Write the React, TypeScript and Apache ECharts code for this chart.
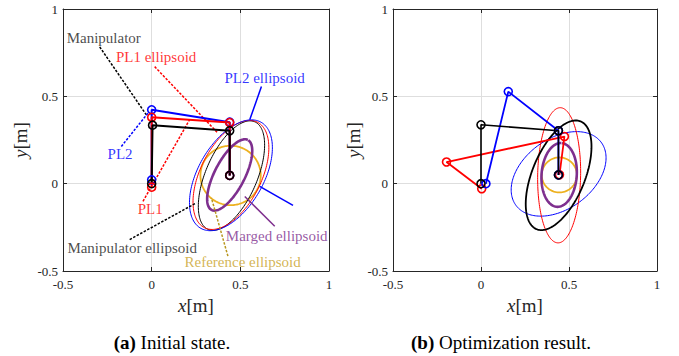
import React, { useEffect, useRef } from "react";
import * as echarts from "echarts";

const FONT = "Liberation Serif";
const AX_MIN = -0.5;
const AX_MAX = 1;
const AX_STEP = 0.5;

const BLACK = "#000000";
const RED = "#ff0000";
const BLUE = "#0000ff";
const PURPLE = "#7E2F8E";
const ORANGE = "#EDB120";
const GOLD_TEXT = "#C9A227";
const GOLD_LINE = "#B8961E";

// ---------- (a) Initial state: joint coordinates [x, y] ----------
const initManipulator = [[0, 0], [0.005, 0.335], [0.44, 0.303], [0.44, 0.047]];
const initPL1 = [[0, -0.02], [0, 0.38], [0.44, 0.35], [0.44, 0.047]];
const initPL2 = [[0, 0.022], [0, 0.423], [0.44, 0.352], [0.44, 0.047]];

// ellipses: [cx, cy, semiA, semiB, angleDeg]
const initRefEllipse = [0.445, 0.047, 0.17, 0.17, 0];
const initMergedEllipse = [0.44, 0.05, 0.225, 0.085, 63];
const initManipEllipse = [0.45, 0.046, 0.335, 0.145, 67];
const initPL1Ellipse = [0.447, 0.05, 0.337, 0.172, 64];
const initPL2Ellipse = [0.447, 0.048, 0.348, 0.185, 61];

// annotation leader lines [[x1,y1],[x2,y2]]
const leadManipulator = [[-0.293, 0.783], [-0.03, 0.394]];
const leadPL1Ellipsoid = [[0.017, 0.67], [0.372, 0.291]];
const leadPL2Ellipsoid = [[0.619, 0.556], [0.553, 0.366]];
const leadPL2 = [[-0.171, 0.213], [-0.021, 0.404]];
const leadPL1 = [[-0.049, -0.101], [0.214, 0.366]];
const leadManipEllipsoid = [[-0.124, -0.32], [0.252, -0.11]];
const leadMerged = [[0.694, -0.244], [0.525, -0.073]];
const leadReference = [[0.43, -0.415], [0.337, -0.082]];
const leadBlueExtra = [[0.609, -0.015], [0.797, -0.124]];

// annotation labels: [text, x, y]
const labelsBlack = [["Manipulator", -0.27, 0.834], ["Manipulator ellipsoid", -0.11, -0.371]];
const labelsRed = [["PL1 ellipsoid", 0.025, 0.726], ["PL1", -0.008, -0.143]];
const labelsBlue = [["PL2 ellipsoid", 0.637, 0.606], ["PL2", -0.178, 0.171]];
const labelsPurple = [["Marged ellipsoid", 0.705, -0.297]];
const labelsGold = [["Reference ellipsoid", 0.513, -0.451]];

// ---------- (b) Optimization result ----------
const optManipulator = [[0, 0], [0, 0.337], [0.44, 0.303], [0.44, 0.05]];
const optPL1 = [[0.004, -0.029], [-0.196, 0.124], [0.474, 0.27], [0.446, 0.051]];
const optPL2 = [[0.028, 0], [0.155, 0.527], [0.44, 0.303], [0.44, 0.05]];

const optRefEllipse = [0.445, 0.05, 0.1, 0.1, 0];
const optMergedEllipse = [0.444, 0.05, 0.183, 0.1, 86];
const optManipEllipse = [0.441, 0.048, 0.333, 0.15, 68];
const optPL1Ellipse = [0.444, 0.048, 0.387, 0.122, 89];
const optPL2Ellipse = [0.441, 0.056, 0.302, 0.2, 37];

const captions = [
  { tag: "(a)", text: "Initial state.", x: 172 },
  { tag: "(b)", text: "Optimization result.", x: 501 },
];

function ellipsePoints(p: number[]) {
  const [cx, cy, a, b, deg] = p;
  const th = (deg * Math.PI) / 180;
  const pts: number[][] = [];
  const n = 180;
  for (let i = 0; i <= n; i++) {
    const t = (i / n) * Math.PI * 2;
    const ex = a * Math.cos(t);
    const ey = b * Math.sin(t);
    pts.push([cx + ex * Math.cos(th) - ey * Math.sin(th), cy + ex * Math.sin(th) + ey * Math.cos(th)]);
  }
  return pts;
}

function ellipseSeries(p: number[], color: string, width: number, gi: number) {
  return {
    type: "line",
    xAxisIndex: gi * 2,
    yAxisIndex: gi * 2,
    data: ellipsePoints(p),
    showSymbol: false,
    symbol: "none",
    lineStyle: { color, width },
    silent: true,
  };
}

function linkSeries(pts: number[][], color: string, width: number, gi: number) {
  return {
    type: "line",
    xAxisIndex: gi * 2,
    yAxisIndex: gi * 2,
    data: pts,
    symbol: "circle",
    symbolSize: 8,
    showAllSymbol: true,
    lineStyle: { color, width },
    itemStyle: { color: "rgba(255,255,255,0)", borderColor: color, borderWidth: 1.6 },
    silent: true,
    z: 3,
  };
}

function leadSeries(pts: number[][], color: string, dashed: boolean, gi: number) {
  return {
    type: "line",
    xAxisIndex: gi * 2,
    yAxisIndex: gi * 2,
    data: pts,
    symbol: "none",
    lineStyle: { color, width: 1.5, type: dashed ? [2.5, 1.5] : "solid" },
    silent: true,
  };
}

function labelSeries(items: (string | number)[][], color: string, gi: number) {
  return {
    type: "scatter",
    xAxisIndex: gi * 2,
    yAxisIndex: gi * 2,
    symbolSize: 1,
    itemStyle: { color: "rgba(0,0,0,0)" },
    data: items.map((it) => ({ name: it[0] as string, value: [it[1], it[2]] })),
    label: {
      show: true,
      position: "inside",
      formatter: (d: any) => d.name,
      color,
      fontFamily: FONT,
      fontSize: 15,
    },
    silent: true,
    z: 5,
  };
}

function axesFor(gi: number, yNameGap: number) {
  const common = {
    type: "value",
    min: AX_MIN,
    max: AX_MAX,
    interval: AX_STEP,
    gridIndex: gi,
  };
  const axisLine = { show: true, onZero: false, lineStyle: { color: "#262626", width: 1 } };
  const tick = { show: true, inside: true, length: 4, lineStyle: { color: "#262626" } };
  const label = { color: "#262626", fontFamily: FONT, fontSize: 13 };
  const nameStyle = {
    color: "#262626",
    fontFamily: FONT,
    fontSize: 19,
    rich: { i: { fontStyle: "italic", fontFamily: FONT, fontSize: 19, color: "#262626" } },
  };
  const x = [
    {
      ...common,
      position: "bottom",
      axisLine,
      axisTick: tick,
      axisLabel: { ...label, margin: 7 },
      splitLine: { show: true, lineStyle: { color: "#dedede", width: 1 } },
      name: "{i|x}[m]",
      nameLocation: "middle",
      nameGap: 25,
      nameTextStyle: nameStyle,
    },
    {
      ...common,
      position: "top",
      axisLine,
      axisTick: tick,
      axisLabel: { show: false },
      splitLine: { show: false },
    },
  ];
  const y = [
    {
      ...common,
      position: "left",
      axisLine,
      axisTick: tick,
      axisLabel: { ...label, margin: 5 },
      splitLine: { show: true, lineStyle: { color: "#dedede", width: 1 } },
      name: "{i|y}[m]",
      nameLocation: "middle",
      nameRotate: 90,
      nameGap: yNameGap,
      nameTextStyle: nameStyle,
    },
    {
      ...common,
      position: "right",
      axisLine,
      axisTick: tick,
      axisLabel: { show: false },
      splitLine: { show: false },
    },
  ];
  return { x, y };
}

export default function App() {
  const ref = useRef<HTMLDivElement>(null);
  useEffect(() => {
    if (!ref.current) return;
    const chart = echarts.init(ref.current, undefined, { renderer: "svg" });
    const a0 = axesFor(0, 33);
    const a1 = axesFor(1, 30);
    const series: any[] = [
      // (a)
      ellipseSeries(initRefEllipse, ORANGE, 1.8, 0),
      ellipseSeries(initManipEllipse, BLACK, 1, 0),
      ellipseSeries(initPL1Ellipse, RED, 1, 0),
      ellipseSeries(initPL2Ellipse, BLUE, 1, 0),
      ellipseSeries(initMergedEllipse, PURPLE, 2.6, 0),
      leadSeries(leadManipulator, BLACK, true, 0),
      leadSeries(leadPL1Ellipsoid, RED, true, 0),
      leadSeries(leadPL2Ellipsoid, BLUE, false, 0),
      leadSeries(leadPL2, BLUE, true, 0),
      leadSeries(leadPL1, RED, true, 0),
      leadSeries(leadManipEllipsoid, BLACK, true, 0),
      leadSeries(leadMerged, PURPLE, false, 0),
      leadSeries(leadReference, GOLD_LINE, true, 0),
      leadSeries(leadBlueExtra, BLUE, false, 0),
      linkSeries(initPL2, BLUE, 2, 0),
      linkSeries(initPL1, RED, 2, 0),
      linkSeries(initManipulator, BLACK, 2, 0),
      labelSeries(labelsBlack, "#1a1a1a", 0),
      labelSeries(labelsRed, RED, 0),
      labelSeries(labelsBlue, BLUE, 0),
      labelSeries(labelsPurple, PURPLE, 0),
      labelSeries(labelsGold, GOLD_TEXT, 0),
      // (b)
      ellipseSeries(optRefEllipse, ORANGE, 1.8, 1),
      ellipseSeries(optPL2Ellipse, BLUE, 1, 1),
      ellipseSeries(optPL1Ellipse, RED, 1, 1),
      ellipseSeries(optManipEllipse, BLACK, 1.8, 1),
      ellipseSeries(optMergedEllipse, PURPLE, 2.6, 1),
      linkSeries(optPL1, RED, 1.8, 1),
      linkSeries(optPL2, BLUE, 1.8, 1),
      linkSeries(optManipulator, BLACK, 1.6, 1),
    ];
    chart.setOption({
      animation: false,
      backgroundColor: "#ffffff",
      textStyle: { fontFamily: FONT },
      grid: [
        { left: 63, top: 9, width: 266, height: 262, containLabel: false },
        { left: 393, top: 9, width: 264, height: 262, containLabel: false },
      ],
      xAxis: [...a0.x, ...a1.x],
      yAxis: [...a0.y, ...a1.y],
      series,
      graphic: captions.map((c) => ({
        type: "text",
        x: c.x,
        y: 342,
        style: {
          text: `{b|${c.tag}} {n|${c.text}}`,
          align: "center",
          verticalAlign: "middle",
          fill: "#000",
          fontFamily: FONT,
          fontSize: 19,
          rich: {
            b: { fontFamily: FONT, fontSize: 19, fontWeight: "bold", fill: "#000" },
            n: { fontFamily: FONT, fontSize: 19, fill: "#000" },
          },
        },
      })),
    });
    return () => chart.dispose();
  }, []);
  return (
    <div
      ref={ref}
      style={{ position: "fixed", left: 0, top: 0, width: 679, height: 356, background: "#fff" }}
    />
  );
}
